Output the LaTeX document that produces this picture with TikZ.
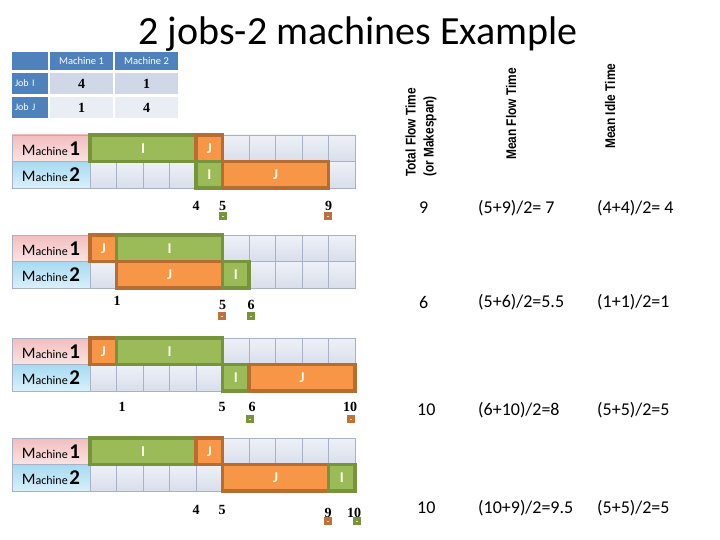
\documentclass[tikz,border=0pt]{standalone}
\usepackage{fontspec}
\setmainfont{Carlito}
\newfontfamily\hdfont[FakeStretch=0.85]{Liberation Sans}
\newfontfamily\numfont{Liberation Serif}
\definecolor{thead}{HTML}{4F81BD}
\definecolor{trowa}{HTML}{D0D8E8}
\definecolor{trowb}{HTML}{E9EDF4}
\definecolor{gfill}{HTML}{9BBB59}
\definecolor{gline}{HTML}{77933C}
\definecolor{ofill}{HTML}{F79646}
\definecolor{oline}{HTML}{B66D31}
\definecolor{cellline}{HTML}{A9B1C6}
\definecolor{celltop}{HTML}{EEF1F7}
\definecolor{cellbot}{HTML}{D8DEEB}
\definecolor{pinktop}{HTML}{F2BDBE}
\definecolor{pinkbot}{HTML}{FBE3E3}
\definecolor{bluetop}{HTML}{A6DAF1}
\definecolor{bluebot}{HTML}{DAF0FA}
\definecolor{sqgreen}{HTML}{77933C}
\definecolor{sqorange}{HTML}{C0703A}
\definecolor{blktext}{HTML}{FFFBE6}
\tikzset{
  cellbox/.style={draw=cellline, line width=0.8pt, top color=celltop, bottom color=cellbot,
    minimum width=26.5pt, minimum height=26.5pt, inner sep=0pt, outer sep=0pt},
  labbase/.style={draw=cellline, line width=0.8pt, minimum width=78pt, minimum height=26.5pt, inner sep=0pt},
  labone/.style={labbase, top color=pinktop, bottom color=pinkbot},
  labtwo/.style={labbase, top color=bluetop, bottom color=bluebot},
  blockbase/.style={line width=3.5pt, minimum height=26.5pt, inner sep=0pt, text=blktext,
    font=\bfseries\fontsize{15}{15}\selectfont},
  gblk/.style={blockbase, draw=gline, fill=gfill},
  oblk/.style={blockbase, draw=oline, fill=ofill},
  ticklab/.style={font=\numfont\bfseries\fontsize{14}{14}\selectfont, inner sep=0pt},
  sqbase/.style={minimum size=8pt, inner sep=0pt,
    path picture={\draw[white!75!gray, line width=0.8pt]
      ([xshift=-1pt]path picture bounding box.center) -- ([xshift=1pt]path picture bounding box.center);}},
  gsq/.style={sqbase, fill=sqgreen},
  osq/.style={sqbase, fill=sqorange},
  vhead/.style={rotate=90, anchor=west, font=\hdfont\bfseries\fontsize{14}{18}\selectfont,
    inner sep=0pt, align=left},
  val/.style={anchor=west, font=\fontsize{18}{18}\selectfont, inner sep=0pt},
  thcell/.style={fill=thead, text=white, inner sep=0pt, font=\fontsize{10.5}{10.5}\selectfont,
    minimum height=18pt},
  jobcell/.style={fill=thead, text=white, inner xsep=3pt, inner ysep=0pt, text width=30pt,
    align=left, minimum height=21pt, font=\fontsize{10}{10}\selectfont},
  tnum/.style={inner sep=0pt, minimum width=63pt, minimum height=21pt,
    font=\numfont\bfseries\fontsize{14}{14}\selectfont},
}
\newcommand\mlab[1]{{\fontsize{16}{16}\selectfont M}{\fontsize{12}{12}\selectfont achine}\,{\fontsize{21}{21}\selectfont\bfseries #1}}
\newcommand\ganttset[2]{%
  \node[labone] (#1lone) at (51,{#2+13.25}) {\mlab{1}};
  \node[labtwo] (#1ltwo) at (51,{#2+39.75}) {\mlab{2}};
  \foreach \i in {0,...,9} {
    \node[cellbox] (#1a\i) at ({103.25+26.5*\i},{#2+13.25}) {};
    \node[cellbox] (#1b\i) at ({103.25+26.5*\i},{#2+39.75}) {};
  }
}
\newcommand\blk[6]{%
  \node[#2, minimum width={(#5-#4)*26.5pt}] (#1) at ({90+13.25*(#4+#5)},{#3+13.25}) {#6};
}
\begin{document}
\begin{tikzpicture}[x=1pt,y=-1pt]
\useasboundingbox (0,0) rectangle (720,540);
\fill[white] (0,0) rectangle (720,540);

% title
\node[anchor=base, inner sep=0pt, font=\fontsize{40}{40}\selectfont] (title) at (358,45) {2 jobs-2 machines Example};

% processing time table
\node[thcell, minimum width=36pt] (th0) at (30,61) {};
\node[thcell, minimum width=63pt] (th1) at (81.5,61) {Machine 1};
\node[thcell, minimum width=63pt] (th2) at (146.5,61) {Machine 2};
\node[jobcell] (tjI) at (30,83.5) {Job I};
\node[tnum, fill=trowa] (tI1) at (81.5,83.5) {4};
\node[tnum, fill=trowa] (tI2) at (146.5,83.5) {1};
\node[jobcell] (tjJ) at (30,107.5) {Job J};
\node[tnum, fill=trowb] (tJ1) at (81.5,107.5) {1};
\node[tnum, fill=trowb] (tJ2) at (146.5,107.5) {4};

% column headers
\node[vhead] (hTotal) at (421,177) {Total Flow Time\\(or Makespan)};
\node[vhead] (hMean) at (511,160) {Mean Flow Time};
\node[vhead] (hIdle) at (610,149) {Mean Idle Time};

% ---- schedule A
\ganttset{A}{135}
\blk{AIone}{gblk}{135}{0}{4}{I}
\blk{AJone}{oblk}{135}{4}{5}{J}
\blk{AItwo}{gblk}{161.5}{4}{5}{I}
\blk{AJtwo}{oblk}{161.5}{5}{9}{J}
\node[ticklab] (An4) at (196,206) {4};
\node[ticklab] (An5) at (222.5,206) {5};
\node[ticklab] (An9) at (328.5,206) {9};
\node[gsq] (Aq5) at (223,216) {};
\node[osq] (Aq9) at (328,216) {};
\node[val] (Av1) at (419,208) {9};
\node[val] (Av2) at (478,208) {(5+9)/2= 7};
\node[val] (Av3) at (597,208) {(4+4)/2= 4};

% ---- schedule B
\ganttset{B}{235}
\blk{BJone}{oblk}{235}{0}{1}{J}
\blk{BIone}{gblk}{235}{1}{5}{I}
\blk{BJtwo}{oblk}{261.5}{1}{5}{J}
\blk{BItwo}{gblk}{261.5}{5}{6}{I}
\node[ticklab] (Bn1) at (117,301) {1};
\node[ticklab] (Bn5) at (222.5,305) {5};
\node[ticklab] (Bn6) at (251,305) {6};
\node[osq] (Bq5) at (222,316) {};
\node[gsq] (Bq6) at (251,316) {};
\node[val] (Bv1) at (419,302) {6};
\node[val] (Bv2) at (478,302) {(5+6)/2=5.5};
\node[val] (Bv3) at (597,302) {(1+1)/2=1};

% ---- schedule C
\ganttset{C}{338}
\blk{CJone}{oblk}{338}{0}{1}{J}
\blk{CIone}{gblk}{338}{1}{5}{I}
\blk{CItwo}{gblk}{364.5}{5}{6}{I}
\blk{CJtwo}{oblk}{364.5}{6}{10}{J}
\node[ticklab] (Cn1) at (122,407) {1};
\node[ticklab] (Cn5) at (222,407) {5};
\node[ticklab] (Cn6) at (252,407) {6};
\node[ticklab] (Cn10) at (350,407) {10};
\node[gsq] (Cq6) at (250,419) {};
\node[osq] (Cq10) at (351,419) {};
\node[val] (Cv1) at (417,410) {10};
\node[val] (Cv2) at (478,410) {(6+10)/2=8};
\node[val] (Cv3) at (597,410) {(5+5)/2=5};

% ---- schedule D
\ganttset{D}{438}
\blk{DIone}{gblk}{438}{0}{4}{I}
\blk{DJone}{oblk}{438}{4}{5}{J}
\blk{DJtwo}{oblk}{464.5}{5}{9}{J}
\blk{DItwo}{gblk}{464.5}{9}{10}{I}
\node[ticklab] (Dn4) at (196,510) {4};
\node[ticklab] (Dn5) at (222,510) {5};
\node[ticklab] (Dn9) at (328,513) {9};
\node[ticklab] (Dn10) at (354,513) {10};
\node[osq] (Dq9) at (328,521) {};
\node[gsq] (Dq10) at (357,521) {};
\node[val] (Dv1) at (417,508) {10};
\node[val] (Dv2) at (478,508) {(10+9)/2=9.5};
\node[val] (Dv3) at (597,508) {(5+5)/2=5};
\end{tikzpicture}
\end{document}
